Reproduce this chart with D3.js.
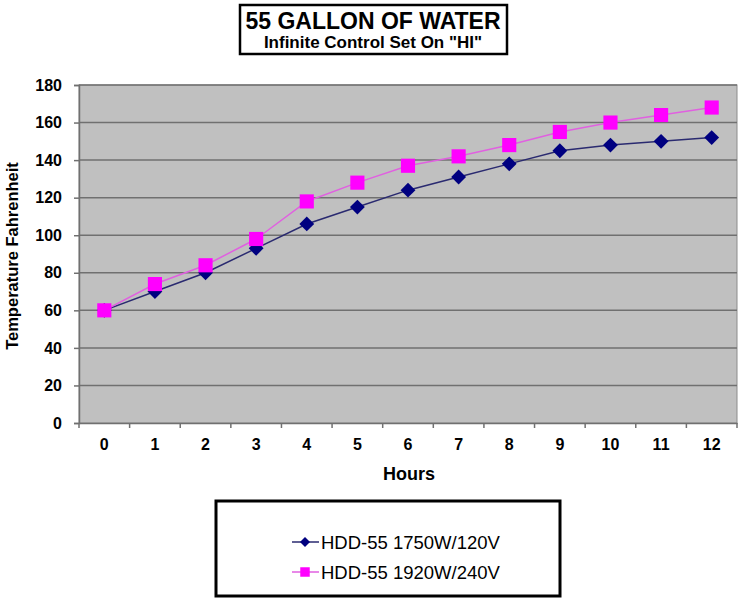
<!DOCTYPE html>
<html>
<head>
<meta charset="utf-8">
<style>
body { margin: 0; background: #fff; }
text { font-family: "Liberation Sans", Arial, sans-serif; fill: #000; }
</style>
</head>
<body>
<script src="https://cdn.jsdelivr.net/npm/d3@7"></script>
<script>
var hours = [0, 1, 2, 3, 4, 5, 6, 7, 8, 9, 10, 11, 12];
var temp120 = [60, 70, 80, 93, 106, 115, 124, 131, 138, 145, 148, 150, 152];
var temp240 = [60, 74, 84, 98, 118, 128, 137, 142, 148, 155, 160, 164, 168];
var yTicks = [0, 20, 40, 60, 80, 100, 120, 140, 160, 180];
var seriesNames = ["HDD-55 1750W/120V", "HDD-55 1920W/240V"];

var width = 740, height = 601;
var plotLeft = 79, plotRight = 737, plotTop = 85, plotBottom = 423;

var svg = d3.select("body").append("svg")
    .attr("width", width)
    .attr("height", height);

var x = d3.scaleBand().domain(hours).range([plotLeft, plotRight]);
var y = d3.scaleLinear().domain([0, 180]).range([plotBottom, plotTop]);

// plot area
svg.append("rect")
    .attr("x", plotLeft).attr("y", plotTop)
    .attr("width", plotRight - plotLeft).attr("height", plotBottom - plotTop)
    .attr("fill", "#c0c0c0")
    .attr("stroke", "#8c8c8c");

// gridlines
svg.append("g").selectAll("line")
    .data(yTicks.slice(1))
    .enter().append("line")
    .attr("x1", plotLeft).attr("x2", plotRight)
    .attr("y1", function(d) { return y(d); })
    .attr("y2", function(d) { return y(d); })
    .attr("stroke", "#707070")
    .attr("stroke-width", 1.5);

// y axis
var yAxis = svg.append("g")
    .attr("transform", "translate(" + plotLeft + ",0)")
    .call(d3.axisLeft(y).tickValues(yTicks).tickSize(5).tickPadding(12));
yAxis.select(".domain").attr("stroke", "#707070").attr("stroke-width", 1.5);
yAxis.selectAll(".tick line").attr("stroke", "#707070").attr("stroke-width", 1.5);
yAxis.selectAll("text")
    .style("font-family", "Liberation Sans, Arial, sans-serif")
    .style("font-size", "16px").style("font-weight", "bold");

// x axis: ticks at category boundaries
var xAxis = svg.append("g")
    .attr("transform", "translate(0," + plotBottom + ")")
    .call(d3.axisBottom(x).tickSize(0).tickPadding(16));
xAxis.select(".domain").attr("stroke", "#707070").attr("stroke-width", 1.5);
xAxis.selectAll("text")
    .style("font-family", "Liberation Sans, Arial, sans-serif")
    .style("font-size", "16px").style("font-weight", "bold");
xAxis.selectAll(".bound")
    .data(hours.concat([13]))
    .enter().append("line")
    .attr("x1", function(d) { return plotLeft + d * x.step(); })
    .attr("x2", function(d) { return plotLeft + d * x.step(); })
    .attr("y1", 0).attr("y2", 5)
    .attr("stroke", "#707070").attr("stroke-width", 1.5);

// axis titles
svg.append("text")
    .attr("x", 409).attr("y", 480)
    .attr("text-anchor", "middle")
    .style("font-size", "18px").style("font-weight", "bold")
    .text("Hours");

svg.append("text")
    .attr("transform", "translate(18,256) rotate(-90)")
    .attr("text-anchor", "middle")
    .style("font-size", "16.5px").style("font-weight", "bold")
    .text("Temperature Fahrenheit");

// title box
svg.append("rect")
    .attr("x", 240).attr("y", 5)
    .attr("width", 267).attr("height", 49)
    .attr("fill", "#fff").attr("stroke", "#000").attr("stroke-width", 2.5);
svg.append("text")
    .attr("x", 373).attr("y", 29)
    .attr("text-anchor", "middle")
    .style("font-size", "23px").style("font-weight", "bold")
    .text("55 GALLON OF WATER");
svg.append("text")
    .attr("x", 373).attr("y", 48)
    .attr("text-anchor", "middle")
    .style("font-size", "17px").style("font-weight", "bold")
    .text("Infinite Control Set On \"HI\"");

// series
var line = d3.line()
    .x(function(d, i) { return x(hours[i]) + x.bandwidth() / 2; })
    .y(function(d) { return y(d); });

var series = [
  { name: seriesNames[0], values: temp120, color: "#000080", lineColor: "#2a2a70", rot: 45, size: 110 },
  { name: seriesNames[1], values: temp240, color: "#ff00ff", lineColor: "#e060e0", rot: 0, size: 200 }
];

series.forEach(function(s) {
  svg.append("path")
      .datum(s.values)
      .attr("d", line)
      .attr("fill", "none")
      .attr("stroke", s.lineColor)
      .attr("stroke-width", 1.5);
  svg.append("g").selectAll("path")
      .data(s.values)
      .enter().append("path")
      .attr("transform", function(d, i) {
        return "translate(" + (x(hours[i]) + x.bandwidth() / 2) + "," + y(d) + ") rotate(" + s.rot + ")";
      })
      .attr("d", d3.symbol().type(d3.symbolSquare).size(s.size))
      .attr("fill", s.color);
});

// legend
svg.append("rect")
    .attr("x", 216).attr("y", 501)
    .attr("width", 344).attr("height", 95)
    .attr("fill", "#fff").attr("stroke", "#000").attr("stroke-width", 3);

series.forEach(function(s, i) {
  var ly = 542 + i * 30;
  svg.append("line")
      .attr("x1", 292).attr("x2", 319)
      .attr("y1", ly).attr("y2", ly)
      .attr("stroke", s.lineColor).attr("stroke-width", 1.5);
  svg.append("path")
      .attr("transform", "translate(305," + ly + ") rotate(" + s.rot + ")")
      .attr("d", d3.symbol().type(d3.symbolSquare).size(s.size * 0.45))
      .attr("fill", s.color);
  svg.append("text")
      .attr("x", 321).attr("y", ly + 6.5)
      .style("font-size", "18.5px")
      .text(s.name);
});
</script>
</body>
</html>
